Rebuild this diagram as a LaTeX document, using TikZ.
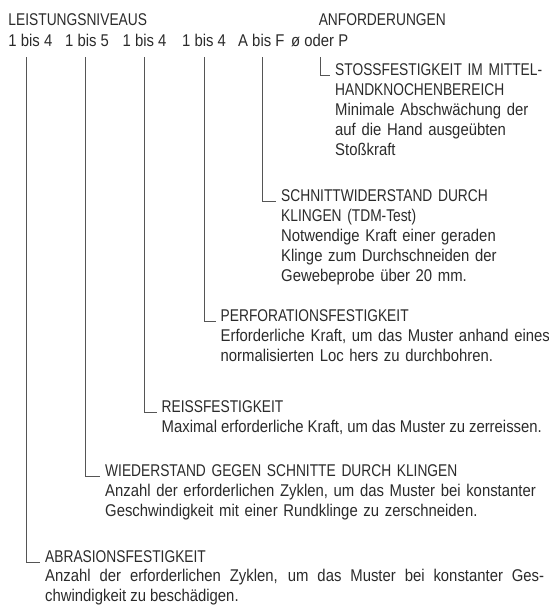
\documentclass[tikz,border=0pt]{standalone}
\usepackage{fontspec}
\setmainfont[FakeStretch=0.875]{Liberation Sans}
\newfontfamily\capsfont[FakeStretch=0.81]{Liberation Sans}
\usetikzlibrary{positioning}
\definecolor{ink}{HTML}{2B2B2B}
\definecolor{rule}{HTML}{555555}
\newcommand{\reqtitle}[1]{{\capsfont #1}}
\tikzset{txt/.style={inner sep=0pt,anchor=base west,align=left,text=ink,
  font=\fontsize{17}{20}\selectfont},
  req/.style={txt,text width=420pt}}

\begin{document}
\begin{tikzpicture}[x=1pt,y=-1pt]
\useasboundingbox (0,0) rectangle (549,606);
% header
\node[txt] (lev) at (8.3,25) {\reqtitle{LEISTUNGSNIVEAUS}};
\node[txt] (anf) at (318.6,25) {\reqtitle{ANFORDERUNGEN}};
\foreach \x/\lab [count=\i] in {8.3/1 bis 4,65/1 bis 5,122.5/1 bis 4,182/1 bis 4,238/A bis F,291/ø oder P}
 {\node[txt] (l\i) at (\x,46.5) {\lab};}
% requirements
\node[req] (t6) at (335,75) {\reqtitle{STOSSFESTIGKEIT IM MITTEL-\\HANDKNOCHENBEREICH}\\Minimale Abschwächung der\\auf die Hand ausgeübten\\Stoßkraft};
\node[req] (t5) at (281,201) {\reqtitle{SCHNITTWIDERSTAND DURCH\\KLINGEN (TDM-Test)}\\Notwendige Kraft einer geraden\\Klinge zum Durchschneiden der\\Gewebeprobe über 20 mm.};
\node[req] (t4) at (220.5,321) {\reqtitle{PERFORATIONSFESTIGKEIT}\\Erforderliche Kraft, um das Muster anhand eines\\normalisierten Loc hers zu durchbohren.};
\node[req] (t3) at (161.5,412) {\reqtitle{REISSFESTIGKEIT}\\\spaceskip=4pt Maximal erforderliche Kraft, um das Muster zu zerreissen.};
\node[req,text width=445pt] (t2) at (105,476) {\reqtitle{WIEDERSTAND GEGEN SCHNITTE DURCH KLINGEN}\\Anzahl der erforderlichen Zyklen, um das Muster bei konstanter\\Geschwindigkeit mit einer Rundklinge zu zerschneiden.};
\node[req,text width=499pt,align=justify,font=\fontsize{17}{19.5}\selectfont] (t1) at (45,562) {\reqtitle{ABRASIONSFESTIGKEIT}\\Anzahl der erforderlichen Zyklen, um das Muster bei konstanter Ges-\linebreak chwindigkeit zu beschädigen.};
% brackets
\foreach \x [count=\i] in {26,85.5,144.5,204,262.5,320}
 {\coordinate (c\i) at (\x,57);
  \draw[rule,line width=0.8pt] (c\i) |- ([xshift=-5pt]t\i.base west);}
\end{tikzpicture}
\end{document}
